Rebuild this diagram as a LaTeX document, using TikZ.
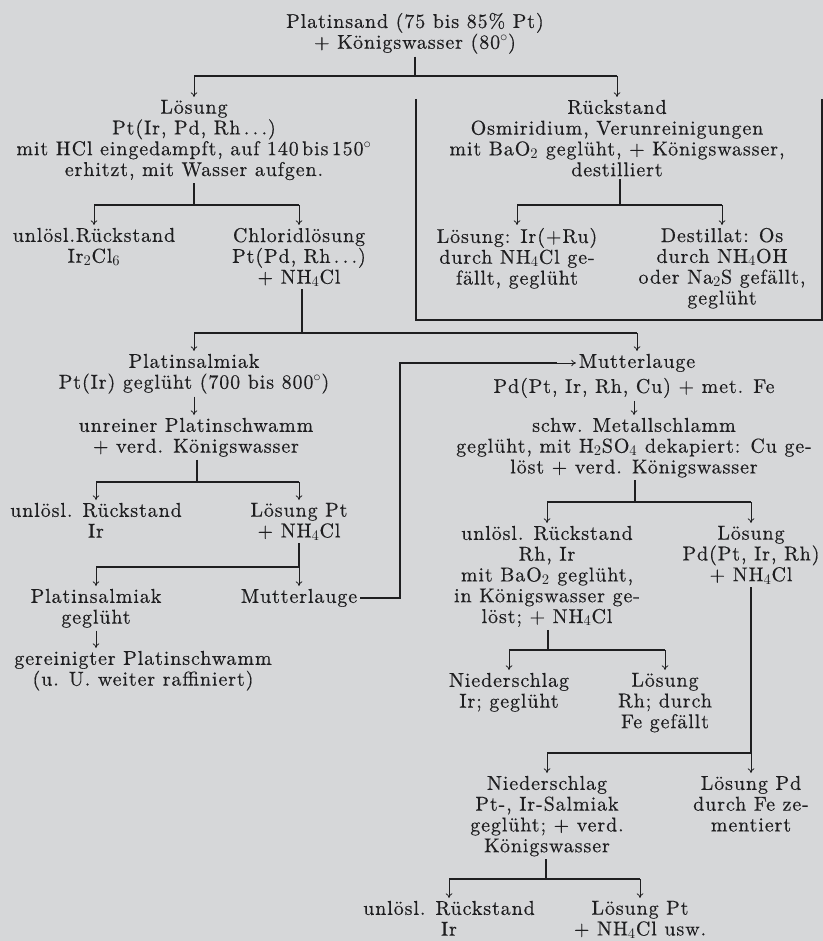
\documentclass[tikz,border=0pt]{standalone}
\usepackage{fontspec}
\setmainfont{lmroman10-regular.otf}[LetterSpace=4.5, FakeBold=0.4]
\usetikzlibrary{arrows.meta}

\definecolor{paper}{RGB}{214,215,217}
\definecolor{ink}{RGB}{30,30,32}

\tikzset{
  stoff/.style={align=center, anchor=north, inner sep=2pt, text=ink,
                font=\fontsize{15}{15.6}\selectfont},
  splitline/.style={draw=ink, line width=1.5pt},
  droparrow/.style={draw=ink, line width=0.6pt, -{To[length=3.5pt,width=5pt]}}
}

\begin{document}
\begin{tikzpicture}[x=0.75pt, y=-0.75pt]
        \fill [paper] (0,0) rectangle (823,941);
        \useasboundingbox (0,0) rectangle (823,941);

        \node [stoff] (top) at (415,10)
              {Platinsand (75 bis 85\% Pt)\\+ Königswasser (80$^\circ$)};
        \node [stoff] (loes1) at (194,97)
              {Lösung\\Pt(Ir, Pd, Rh\,.\,.\,.)\\mit HCl eingedampft, auf 140\,bis\,150$^\circ$\\erhitzt, mit Wasser aufgen.};
        \node [stoff] (rueck1) at (617,97)
              {Rückstand\\Osmiridium, Verunreinigungen\\mit BaO$_2$ geglüht, + Königswasser,\\destilliert};
        \node [stoff] (unl1) at (94,225) {unlösl.Rückstand\\Ir$_2$Cl$_6$};
        \node [stoff] (chlor) at (299,225) {Chloridlösung\\Pt(Pd, Rh\,.\,.\,.)\\+ NH$_4$Cl};
        \node [stoff] (loesIr) at (517,225) {Lösung: Ir(+Ru)\\durch NH$_4$Cl ge-\\fällt, geglüht};
        \node [stoff] (destil) at (722,225) {Destillat: Os\\durch NH$_4$OH\\oder Na$_2$S gefällt,\\geglüht};
        \node [stoff] (psalm) at (194,351) {Platinsalmiak\\Pt(Ir) geglüht (700 bis 800$^\circ$)};
        \node [stoff] (unrein) at (196,415) {unreiner Platinschwamm\\+ verd. Königswasser};
        \node [stoff] (mutter) at (637,351) {Mutterlauge};
        \node [stoff] (pdfe) at (634,375) {Pd(Pt, Ir, Rh, Cu) + met. Fe};
        \node [stoff] (schlamm) at (634,415)
              {schw. Metallschlamm\\geglüht, mit H$_2$SO$_4$ dekapiert: Cu ge-\\löst + verd. Königswasser};
        \node [stoff] (unl2) at (96,500) {unlösl. Rückstand\\Ir};
        \node [stoff] (loesPt) at (299,500) {Lösung Pt\\+ NH$_4$Cl};
        \node [stoff] (psalm2) at (96,586) {Platinsalmiak\\geglüht};
        \node [stoff] (mutter2) at (299,586) {Mutterlauge};
        \node [stoff] (gerein) at (143,648) {gereinigter Platinschwamm\\(u. U. weiter raffiniert)};
        \node [stoff] (unl3) at (547,523)
              {unlösl. Rückstand\\Rh, Ir\\mit BaO$_2$ geglüht,\\in Königswasser ge-\\löst; + NH$_4$Cl};
        \node [stoff] (loesPd) at (751,523) {Lösung\\Pd(Pt, Ir, Rh)\\+ NH$_4$Cl};
        \node [stoff] (nied1) at (509,670) {Niederschlag\\Ir; geglüht};
        \node [stoff] (loesRh) at (665,670) {Lösung\\Rh; durch\\Fe gefällt};
        \node [stoff] (nied2) at (547,773) {Niederschlag\\Pt-, Ir-Salmiak\\geglüht; + verd.\\Königswasser};
        \node [stoff] (loesPd2) at (751,773) {Lösung Pd\\durch Fe ze-\\mentiert};
        \node [stoff] (unl4) at (449,898) {unlösl. Rückstand\\Ir};
        \node [stoff] (loesPt2) at (640,898) {Lösung Pt\\+ NH$_4$Cl usw.};

        \coordinate (bar1) at (415,76);
        \coordinate (bar2) at (194,205);
        \coordinate (bar3) at (620,205);
        \coordinate (bar4) at (302,333);
        \coordinate (bar5) at (197,482);
        \coordinate (bar6) at (299,567);
        \coordinate (bar7) at (635,502);
        \coordinate (bar8) at (548,650);
        \coordinate (bar9) at (751,753);
        \coordinate (bar10) at (546,879);
        \coordinate (rueckweg) at (400,363);
        \coordinate (vorlauf) at (557,363);

        \draw [splitline] (416,99) -- (416,320) -- (822,320) -- (822,99);

        \draw [splitline] (bar1 |- top.south) -- (bar1);
        \draw [splitline] (loes1.north |- bar1) -- (rueck1.north |- bar1);
        \draw [droparrow] (loes1.north |- bar1) -- (loes1.north);
        \draw [droparrow] (rueck1.north |- bar1) -- (rueck1.north);

        \draw [splitline] (bar2 |- loes1.south) -- (bar2);
        \draw [splitline] (unl1.north |- bar2) -- (chlor.north |- bar2);
        \draw [droparrow] (unl1.north |- bar2) -- (unl1.north);
        \draw [droparrow] (chlor.north |- bar2) -- (chlor.north);

        \draw [splitline] (bar3 |- rueck1.south) -- (bar3);
        \draw [splitline] (loesIr.north |- bar3) -- (destil.north |- bar3);
        \draw [droparrow] (loesIr.north |- bar3) -- (loesIr.north);
        \draw [droparrow] (destil.north |- bar3) -- (destil.north);

        \draw [splitline] (bar4 |- chlor.south) -- (bar4);
        \draw [splitline] (psalm.north |- bar4) -- (mutter.north |- bar4);
        \draw [droparrow] (psalm.north |- bar4) -- (psalm.north);
        \draw [droparrow] (mutter.north |- bar4) -- (mutter.north);

        \draw [droparrow] (psalm.south) -- (psalm.south |- unrein.north);
        \draw [droparrow] (pdfe.south) -- (pdfe.south |- schlamm.north);

        \draw [splitline] (bar5 |- unrein.south) -- (bar5);
        \draw [splitline] (unl2.north |- bar5) -- (loesPt.north |- bar5);
        \draw [droparrow] (unl2.north |- bar5) -- (unl2.north);
        \draw [droparrow] (loesPt.north |- bar5) -- (loesPt.north);

        \draw [splitline] (bar6 |- loesPt.south) -- (bar6);
        \draw [splitline] (psalm2.north |- bar6) -- (mutter2.north |- bar6);
        \draw [droparrow] (psalm2.north |- bar6) -- (psalm2.north);
        \draw [droparrow] (mutter2.north |- bar6) -- (mutter2.north);

        \draw [droparrow] (psalm2.south) -- (psalm2.south |- gerein.north);

        \draw [splitline] (mutter2.east) -| (rueckweg) -- (vorlauf);
        \draw [droparrow] (vorlauf) -- (vorlauf -| mutter.west);

        \draw [splitline] (bar7 |- schlamm.south) -- (bar7);
        \draw [splitline] (unl3.north |- bar7) -- (loesPd.north |- bar7);
        \draw [droparrow] (unl3.north |- bar7) -- (unl3.north);
        \draw [droparrow] (loesPd.north |- bar7) -- (loesPd.north);

        \draw [splitline] (bar8 |- unl3.south) -- (bar8);
        \draw [splitline] (nied1.north |- bar8) -- (loesRh.north |- bar8);
        \draw [droparrow] (nied1.north |- bar8) -- (nied1.north);
        \draw [droparrow] (loesRh.north |- bar8) -- (loesRh.north);

        \draw [splitline] (bar9 |- loesPd.south) -- (bar9);
        \draw [splitline] (nied2.north |- bar9) -- (bar9);
        \draw [droparrow] (nied2.north |- bar9) -- (nied2.north);
        \draw [droparrow] (loesPd2.north |- bar9) -- (loesPd2.north);

        \draw [splitline] (bar10 |- nied2.south) -- (bar10);
        \draw [splitline] (unl4.north |- bar10) -- (loesPt2.north |- bar10);
        \draw [droparrow] (unl4.north |- bar10) -- (unl4.north);
        \draw [droparrow] (loesPt2.north |- bar10) -- (loesPt2.north);
\end{tikzpicture}
\end{document}
